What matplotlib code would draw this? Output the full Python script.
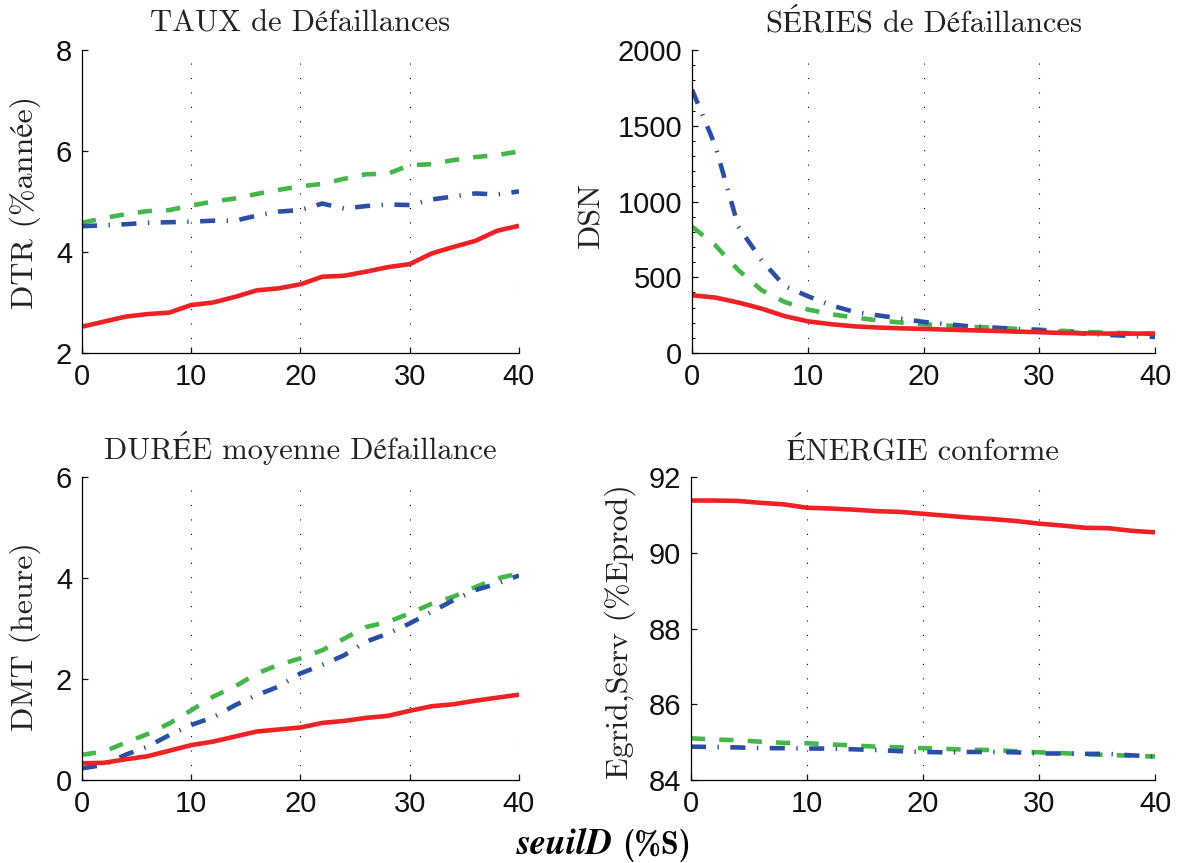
import numpy as np
import matplotlib
matplotlib.use('Agg')
import matplotlib.pyplot as plt
from matplotlib.ticker import MultipleLocator

# seuil de délestage (%S)
seuil = np.arange(0, 41, 2)

# TAUX de défaillances (%année)
dtr_rouge = [2.52, 2.62, 2.72, 2.77, 2.80, 2.95, 3.00, 3.11, 3.24, 3.28, 3.36,
             3.51, 3.53, 3.61, 3.70, 3.76, 3.97, 4.10, 4.22, 4.42, 4.52]
dtr_vert = [4.58, 4.67, 4.75, 4.81, 4.83, 4.92, 5.00, 5.06, 5.15, 5.23, 5.30,
            5.35, 5.45, 5.54, 5.55, 5.72, 5.74, 5.82, 5.88, 5.92, 5.99]
dtr_bleu = [4.51, 4.53, 4.55, 4.58, 4.59, 4.60, 4.62, 4.62, 4.72, 4.80, 4.83,
            4.96, 4.86, 4.91, 4.94, 4.93, 5.04, 5.10, 5.16, 5.14, 5.20]

# SÉRIES de défaillances
dsn_rouge = [381, 366, 333, 293, 243, 209, 190, 176, 168, 163, 159,
             154, 150, 146, 141, 137, 132, 130, 128, 128, 128]
dsn_vert = [834, 712, 547, 415, 337, 287, 256, 234, 216, 201, 190,
            181, 172, 168, 159, 154, 146, 139, 134, 130, 126]
dsn_bleu = [1738, 1370, 834, 613, 441, 375, 315, 271, 249, 227, 205,
            190, 176, 168, 159, 150, 139, 128, 119, 112, 106]

# DURÉE moyenne (heure)
dmt_rouge = [0.33, 0.34, 0.41, 0.47, 0.58, 0.69, 0.76, 0.86, 0.96, 1.00, 1.04,
             1.13, 1.17, 1.23, 1.27, 1.37, 1.46, 1.50, 1.57, 1.63, 1.69]
dmt_vert = [0.50, 0.56, 0.74, 0.91, 1.12, 1.38, 1.65, 1.85, 2.11, 2.28, 2.41,
            2.57, 2.80, 3.03, 3.13, 3.30, 3.49, 3.63, 3.82, 3.99, 4.09]
dmt_bleu = [0.23, 0.30, 0.50, 0.66, 0.89, 1.09, 1.24, 1.48, 1.68, 1.85, 2.11,
            2.28, 2.47, 2.74, 2.90, 3.10, 3.33, 3.56, 3.76, 3.89, 4.05]

# ÉNERGIE conforme (%Eprod)
egr_rouge = [91.38, 91.38, 91.37, 91.32, 91.28, 91.19, 91.17, 91.14, 91.10, 91.08, 91.03,
             90.98, 90.93, 90.89, 90.84, 90.77, 90.72, 90.66, 90.65, 90.58, 90.54]
egr_vert = [85.10, 85.07, 85.05, 85.01, 84.98, 84.97, 84.94, 84.91, 84.88, 84.86, 84.84,
            84.82, 84.80, 84.79, 84.76, 84.73, 84.71, 84.68, 84.66, 84.64, 84.62]
egr_bleu = [84.88, 84.87, 84.86, 84.84, 84.84, 84.83, 84.83, 84.81, 84.79, 84.76, 84.74,
            84.73, 84.74, 84.74, 84.73, 84.70, 84.70, 84.69, 84.69, 84.65, 84.62]

titres = ['TAUX de Défaillances', 'SÉRIES de Défaillances',
          'DURÉE moyenne Défaillance', 'ÉNERGIE conforme']
ylabels = ['DTR (%année)', 'DSN', 'DMT (heure)', 'Egrid,Serv (%Eprod)']
ylims = [(2, 8), (0, 2000), (0, 6), (84, 92)]
ypas = [2, 500, 2, 2]

ROUGE = '#ee2124'
VERT = '#45b649'
BLEU = '#2b4fa5'

serif = ['cmr10', 'STIXGeneral', 'DejaVu Serif']
plt.rcParams['font.family'] = ['Liberation Sans', 'DejaVu Sans']

fig = plt.figure(figsize=(11.81, 8.63), dpi=100)

# positions des axes (fraction de la figure)
boites = [(0.0694, 0.591, 0.370, 0.351),
          (0.586, 0.591, 0.392, 0.351),
          (0.0694, 0.0962, 0.370, 0.351),
          (0.585, 0.0962, 0.393, 0.351)]
# position des ylabels (x, y en fraction)
ypos = [(0.021, 0.765), (0.501, 0.751), (0.021, 0.262), (0.525, 0.268)]

series = [(dtr_vert, dtr_bleu, dtr_rouge),
          (dsn_vert, dsn_bleu, dsn_rouge),
          (dmt_vert, dmt_bleu, dmt_rouge),
          (egr_vert, egr_bleu, egr_rouge)]

for i in range(4):
    ax = fig.add_axes(boites[i])
    vert, bleu, rouge = series[i]
    ax.plot(seuil, vert, color=VERT, lw=3.3, dashes=(3.1, 3.1))
    ax.plot(seuil, bleu, color=BLEU, lw=3.3, dashes=(3.3, 2.5, 0.3, 2.5))
    ax.plot(seuil, rouge, color=ROUGE, lw=3.3, solid_capstyle='butt')

    ax.set_xlim(0, 40)
    ax.set_ylim(*ylims[i])
    ax.xaxis.set_major_locator(MultipleLocator(10))
    ax.yaxis.set_major_locator(MultipleLocator(ypas[i]))
    if i == 1:
        ax.yaxis.set_minor_locator(MultipleLocator(100))
    ax.spines['top'].set_visible(False)
    ax.spines['right'].set_visible(False)
    for s in ('left', 'bottom'):
        ax.spines[s].set_linewidth(0.9)
    ax.tick_params(direction='in', length=4, width=0.9, labelsize=21,
                   colors='#111111', pad=7)
    ax.tick_params(axis='y', which='minor', direction='in', length=2, width=0.7)
    ax.xaxis.grid(True, color='black', lw=0.8, dashes=(1, 12))
    ax.set_axisbelow(True)

    ax.set_title(titres[i], family=serif, fontsize=22, pad=13, color='#222222')
    fig.text(ypos[i][0], ypos[i][1], ylabels[i], rotation=90, family=serif,
             fontsize=23, ha='center', va='center', color='#222222')

# label commun de l'axe x
fig.text(0.519, 0.0105, 'seuilD', family=['STIXGeneral'], weight='bold',
         style='italic', fontsize=26, ha='right', va='baseline')
fig.text(0.5265, 0.0105, '(%S)', family=['cmb10', 'STIXGeneral'],
         fontsize=23, ha='left', va='baseline')

fig.savefig('out.png', dpi=100)
